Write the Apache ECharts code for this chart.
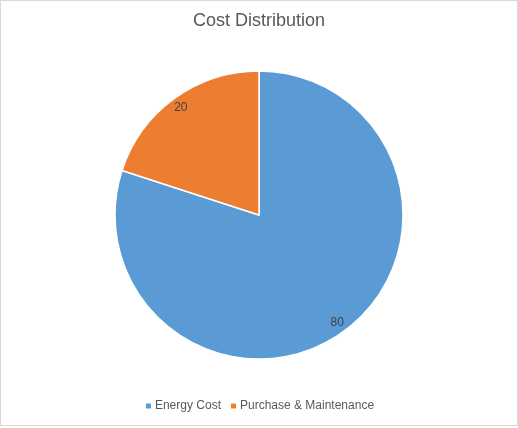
<!DOCTYPE html>
<html><head><meta charset="utf-8">
<script src="https://cdn.jsdelivr.net/npm/echarts@6/dist/echarts.min.js"></script>
<style>
html,body{margin:0;padding:0;background:#fff;}
#frame{position:absolute;left:0;top:0;width:516px;height:424px;border:1px solid #d9d9d9;background:#fff;}
#c{position:absolute;left:0;top:0;width:518px;height:428px;}
</style></head>
<body>
<div id="frame"></div>
<div id="c"></div>
<script>
var categories = ['Energy Cost', 'Purchase & Maintenance'];
var values = [80, 20];
var colors = ['#5B9BD5', '#ED7D31'];

var data = categories.map(function(n, i){ return {name: n, value: values[i]}; });
var chart = echarts.init(document.getElementById('c'));
chart.setOption({
  animation: false,
  color: colors,
  title: {
    text: 'Cost Distribution', left: 'center', top: 7,
    textStyle: {fontFamily: 'Liberation Sans', fontSize: 18, fontWeight: 'normal', color: '#595959'}
  },
  legend: {
    bottom: 11, left: 'center', itemWidth: 7, itemHeight: 7, itemGap: 8, icon: 'rect',
    textStyle: {fontFamily: 'Liberation Sans', fontSize: 12, color: '#595959', padding: [0,0,0,-2]},
    data: categories
  },
  series: [{
    type: 'pie', center: [259, 215], radius: [0, 144], startAngle: 90, clockwise: true,
    itemStyle: {borderColor: '#fff', borderWidth: 1.5},
    label: {show: false}, labelLine: {show: false},
    data: data
  }, {
    type: 'pie', center: [259, 215], radius: [116, 144], startAngle: 90, clockwise: true,
    silent: true, legendHoverLink: false,
    itemStyle: {color: 'rgba(0,0,0,0)'},
    label: {show: true, position: 'inside', formatter: '{c}', fontFamily: 'Liberation Sans', fontSize: 12, color: '#404040'},
    labelLine: {show: false},
    data: data
  }]
});
</script>
</body></html>
